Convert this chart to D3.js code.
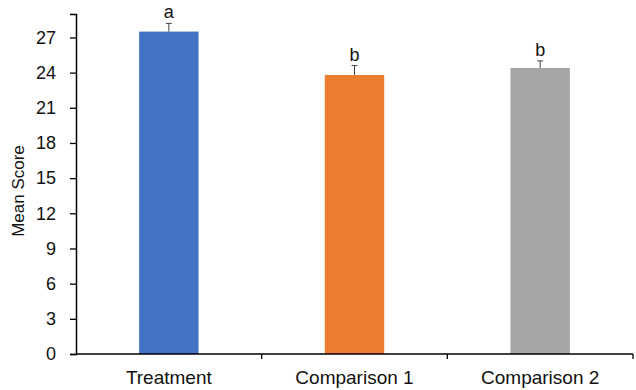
<!DOCTYPE html>
<html><head><meta charset="utf-8">
<script src="https://cdn.jsdelivr.net/npm/d3@7"></script>
<style>body{margin:0;background:#fff}text{font-family:"Liberation Sans",Arial,sans-serif}</style>
</head><body><svg id="c" width="636" height="390"></svg>
<script>
const categories = ["Treatment", "Comparison 1", "Comparison 2"];
const means = [27.5, 23.8, 24.4];
const errors = [0.7, 0.8, 0.6];
const letters = ["a", "b", "b"];
const yTicks = [0, 3, 6, 9, 12, 15, 18, 21, 24, 27];
const colors = ["#4472C4", "#ED7D31", "#A5A5A5"];

const svg = d3.select("#c");
const m = {l: 76, r: 3, t: 14, b: 36};
const W = 636, H = 390;
const x = d3.scaleBand().domain(categories).range([m.l, W - m.r]).paddingInner(0.68).paddingOuter(0.34);
const y = d3.scaleLinear().domain([0, 29]).range([H - m.b, m.t]);

// y axis
const ya = svg.append("g").attr("transform", `translate(${m.l},0)`)
  .call(d3.axisLeft(y).tickValues(yTicks).tickSize(6).tickPadding(14));
ya.select(".domain").attr("stroke", "#000").attr("stroke-width", 1.5);
ya.selectAll(".tick line").attr("stroke", "#000").attr("stroke-width", 1.3);
ya.selectAll(".tick text").attr("font-size", 18).attr("fill", "#111");

// bars
svg.selectAll("rect.bar").data(categories).enter().append("rect")
  .attr("x", d => x(d)).attr("width", x.bandwidth())
  .attr("y", (d, i) => y(means[i])).attr("height", (d, i) => y(0) - y(means[i]))
  .attr("fill", (d, i) => colors[i]);

// error bars
const eb = svg.append("g").attr("stroke", "#444").attr("stroke-width", 1);
categories.forEach((c, i) => {
  const cx = x(c) + x.bandwidth() / 2;
  eb.append("line").attr("x1", cx).attr("x2", cx).attr("y1", y(means[i])).attr("y2", y(means[i] + errors[i]));
  eb.append("line").attr("x1", cx - 3).attr("x2", cx + 3).attr("y1", y(means[i] + errors[i])).attr("y2", y(means[i] + errors[i]));
});

// letters
svg.selectAll("text.lt").data(categories).enter().append("text")
  .attr("x", d => x(d) + x.bandwidth() / 2)
  .attr("y", (d, i) => y(means[i] + errors[i]) - 5)
  .attr("text-anchor", "middle").attr("font-size", 18).attr("fill", "#111")
  .text((d, i) => letters[i]);

// x axis
const xg = svg.append("g").attr("transform", `translate(0,${y(0)})`);
xg.append("line").attr("x1", m.l).attr("x2", W - m.r).attr("stroke", "#000").attr("stroke-width", 1.5);
const step = x.step();
const bounds = categories.map((c, i) => x(c) - x.paddingInner() * step / 2 + step);
xg.selectAll("line.t").data(bounds).enter().append("line")
  .attr("x1", d => d).attr("x2", d => d).attr("y1", 0).attr("y2", 5).attr("stroke", "#000").attr("stroke-width", 1.3);
xg.selectAll("text").data(categories).enter().append("text")
  .attr("x", d => x(d) + x.bandwidth() / 2).attr("y", 30)
  .attr("text-anchor", "middle").attr("font-size", 19).attr("fill", "#111").text(d => d);

// y label
svg.append("text").attr("transform", `translate(24,191) rotate(-90)`)
  .attr("text-anchor", "middle").attr("font-size", 17).attr("fill", "#111").text("Mean Score");
</script></body></html>
